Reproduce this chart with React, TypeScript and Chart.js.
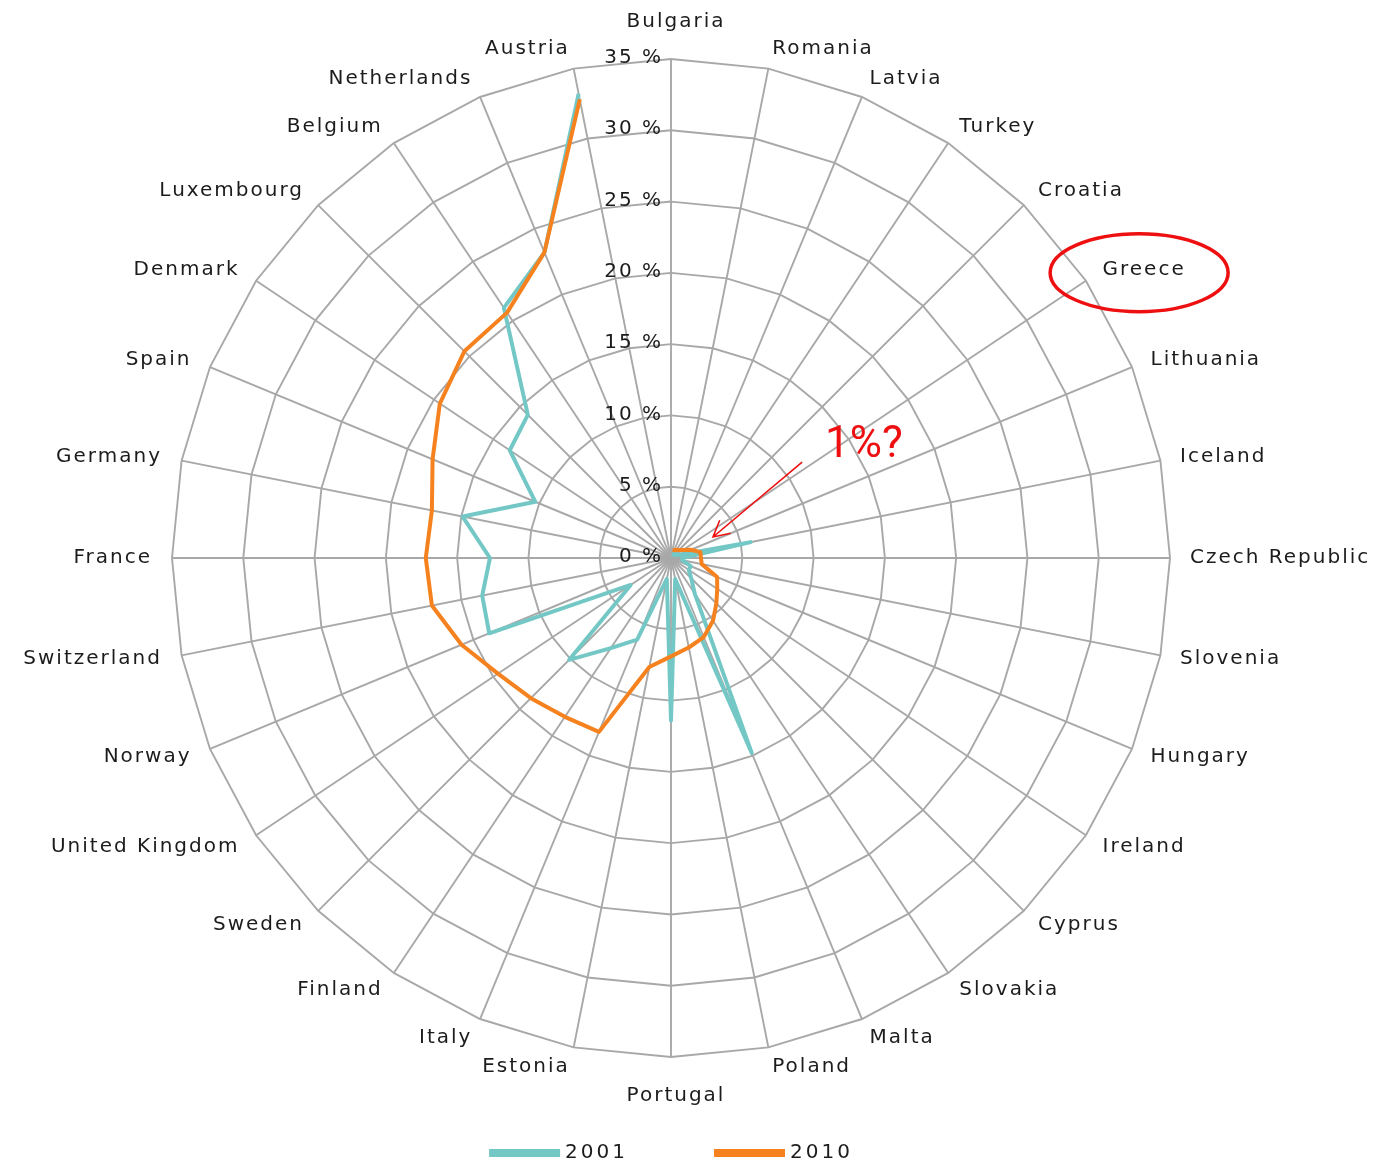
import React, { useEffect, useRef } from 'react';
import { Chart, registerables } from 'chart.js';

Chart.register(...registerables);

// ---------------- data ----------------
const categories = [
  'Bulgaria', 'Romania', 'Latvia', 'Turkey', 'Croatia', 'Greece', 'Lithuania', 'Iceland',
  'Czech Republic', 'Slovenia', 'Hungary', 'Ireland', 'Cyprus', 'Slovakia', 'Malta', 'Poland',
  'Portugal', 'Estonia', 'Italy', 'Finland', 'Sweden', 'United Kingdom', 'Norway', 'Switzerland',
  'France', 'Germany', 'Spain', 'Denmark', 'Luxembourg', 'Belgium', 'Netherlands', 'Austria',
];

const series2001 = [
  null, 0.3, 0.3, 0.3, 0.3, 0.5, 0.5, 5.7,
  0.8, 0.8, 1.5, 1.5, 2.0, 3.0, 14.8, 1.5,
  11.4, 1.5, 6.2, 7.6, 10.1, 3.4, 13.8, 13.5,
  12.7, 14.9, 10.3, 13.6, 14.2, 21.1, 23.2, 33.2,
];

const series2010 = [
  null, 0.6, 0.6, 0.7, 0.8, 1.0, 1.5, 2.1,
  2.1, 2.2, 3.5, 3.9, 4.5, 5.3, 6.0, 6.4,
  6.9, 7.8, 13.2, 13.4, 13.9, 14.6, 15.9, 17.1,
  17.2, 17.1, 18.1, 19.5, 20.5, 20.7, 23.2, 32.8,
];

const seriesLabels = ['2001', '2010'];
const seriesColors = ['#73c8c6', '#f5821f'];
const tickValues = [0, 5, 10, 15, 20, 25, 30, 35];
const annotationText = '1%?';
const annotatedCountry = 'Greece';

// ---------------- styles ----------------
const FONT = '"DejaVu Sans", Verdana, sans-serif';
const TEXT_COLOR = '#1c1c1c';
const GRID_COLOR = '#a8a8a8';
const RED = 'rgb(238, 16, 16)';

const textPlugin = {
  id: 'radarText',
  beforeDatasetsDraw(chart: any) {
    const s = chart.scales.r;
    const ctx = chart.ctx as CanvasRenderingContext2D;
    const R = s.drawingArea;
    const n = categories.length;
    ctx.save();
    ctx.fillStyle = TEXT_COLOR;
    ctx.font = `20px ${FONT}`;
    (ctx as any).letterSpacing = '2px';
    // tick labels
    ctx.textAlign = 'right';
    ctx.textBaseline = 'middle';
    tickValues.forEach((v) => {
      const d = s.getDistanceFromCenterForValue(v);
      ctx.fillText(`${v} %`, s.xCenter - 8, s.yCenter - d - 1);
    });
    // category labels
    categories.forEach((label, i) => {
      const deg = (360 / n) * i;
      let align: CanvasTextAlign;
      let off: number;
      if (deg === 0) { align = 'center'; off = 37; }
      else if (deg === 180) { align = 'center'; off = 39; }
      else { align = deg < 180 ? 'left' : 'right'; off = 20; }
      const p = s.getPointPosition(i, R + off);
      ctx.textAlign = align;
      ctx.fillText(label, p.x + (deg === 0 || deg === 180 ? 5 : 0), p.y);
    });
    ctx.restore();
  },
  afterDraw(chart: any) {
    const s = chart.scales.r;
    const ctx = chart.ctx as CanvasRenderingContext2D;
    const R = s.drawingArea;
    ctx.save();
    // ---- legend ----
    ctx.font = `20px ${FONT}`;
    (ctx as any).letterSpacing = '3px';
    ctx.textBaseline = 'middle';
    ctx.textAlign = 'left';
    const barW = 71, barH = 8, gap = 5, itemGap = 86;
    const widths = seriesLabels.map((t) => ctx.measureText(t).width);
    const total = widths.reduce((a, w) => a + barW + gap + w, 0) + itemGap * (seriesLabels.length - 1);
    let x = s.xCenter - total / 2;
    const y = chart.height - 11;
    seriesLabels.forEach((t, i) => {
      ctx.fillStyle = seriesColors[i];
      ctx.fillRect(x, y - barH / 2, barW, barH);
      ctx.fillStyle = TEXT_COLOR;
      ctx.fillText(t, x + barW + gap, y);
      x += barW + gap + widths[i] + itemGap;
    });

    // ---- red annotations ----
    (ctx as any).letterSpacing = '2px';
    const gi = categories.indexOf(annotatedCountry);
    const gp = s.getPointPosition(gi, R + 20);
    const gw = ctx.measureText(annotatedCountry).width;
    ctx.strokeStyle = RED;
    ctx.lineWidth = 3.5;
    ctx.beginPath();
    ctx.ellipse(gp.x + gw / 2 - 5, gp.y + 3, 89, 39, 0, 0, Math.PI * 2);
    ctx.stroke();

    const tp = s.getPointPositionForValue(gi, 13);
    (ctx as any).letterSpacing = '0px';
    ctx.font = `44px Roboto, "Liberation Sans", sans-serif`;
    ctx.fillStyle = RED;
    ctx.textAlign = 'left';
    ctx.textBaseline = 'alphabetic';
    ctx.fillText(annotationText, tp.x, tp.y + 2);

    const sx = tp.x - 23, sy = tp.y + 7;
    const ex = s.xCenter + 42, ey = s.yCenter - 21;
    ctx.lineWidth = 1.6;
    ctx.beginPath();
    ctx.moveTo(sx, sy);
    ctx.lineTo(ex, ey);
    const ang = Math.atan2(sy - ey, sx - ex);
    const hl = 18, spread = (28 * Math.PI) / 180;
    ctx.moveTo(ex + hl * Math.cos(ang - spread), ey + hl * Math.sin(ang - spread));
    ctx.lineTo(ex, ey);
    ctx.lineTo(ex + hl * Math.cos(ang + spread), ey + hl * Math.sin(ang + spread));
    ctx.stroke();
    ctx.restore();
  },
};

export default function App() {
  const canvasRef = useRef<HTMLCanvasElement | null>(null);

  useEffect(() => {
    if (!canvasRef.current) return;
    const chart = new Chart(canvasRef.current, {
      type: 'radar',
      data: {
        labels: categories,
        datasets: [
          {
            label: seriesLabels[0],
            data: series2001,
            borderColor: seriesColors[0],
            backgroundColor: seriesColors[0],
            borderWidth: 4,
            pointRadius: 0,
            fill: false,
            spanGaps: false,
            order: 1,
          },
          {
            label: seriesLabels[1],
            data: series2010,
            borderColor: seriesColors[1],
            backgroundColor: seriesColors[1],
            borderWidth: 4,
            pointRadius: 0,
            fill: false,
            spanGaps: false,
            order: 0,
          },
        ],
      },
      options: {
        animation: false,
        responsive: true,
        maintainAspectRatio: false,
        layout: { padding: { left: 172, top: 59, right: 209, bottom: 107 } },
        elements: { line: { tension: 0, borderJoinStyle: 'round' } },
        plugins: { legend: { display: false }, tooltip: { enabled: false } },
        scales: {
          r: {
            min: 0,
            max: 35,
            ticks: { stepSize: 5, display: false },
            pointLabels: { display: false },
            grid: { color: GRID_COLOR, lineWidth: 1.9 },
            angleLines: { color: GRID_COLOR, lineWidth: 1.9 },
          },
        },
      } as any,
      plugins: [textPlugin],
    });
    return () => chart.destroy();
  }, []);

  return (
    <div style={{ position: 'fixed', left: 0, top: 0, width: 1379, height: 1164, background: '#fff' }}>
      <canvas ref={canvasRef} />
    </div>
  );
}
